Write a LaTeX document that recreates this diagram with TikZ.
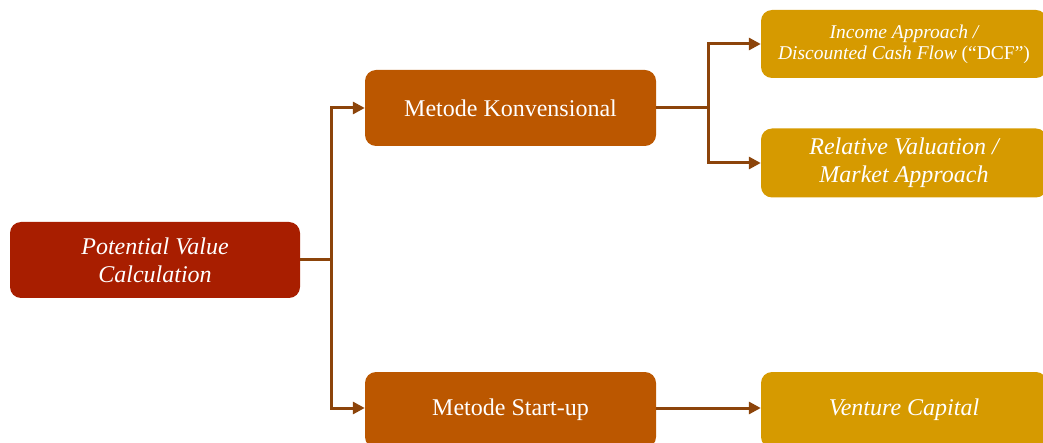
\documentclass[tikz,border=0pt]{standalone}
\usepackage{fontspec}
\setmainfont{Liberation Serif}
\usetikzlibrary{arrows.meta}
\definecolor{cRed}{RGB}{168,30,0}
\definecolor{cOrange}{RGB}{187,87,0}
\definecolor{cGold}{RGB}{214,154,0}
\definecolor{cLine}{RGB}{140,68,10}
\begin{document}
\begin{tikzpicture}[x=1pt,y=1pt,
  box/.style={rounded corners=11pt, text=white, align=center, inner sep=0pt, draw=none},
  big/.style={font=\fontsize{24}{28}\selectfont},
  small/.style={font=\fontsize{19.5}{21}\selectfont},
  arr/.style={draw=cLine, line width=3pt, -{Triangle[length=12pt,width=12pt]}}]
\useasboundingbox (0,0) rectangle (1043,-443);
\node[box,big,fill=cRed,minimum width=290pt,minimum height=76pt] (pvc) at (155,-260) {\itshape Potential Value\\\itshape Calculation};
\node[box,big,fill=cOrange,minimum width=291pt,minimum height=76pt] (konv) at (510.5,-108) {Metode Konvensional};
\node[box,big,fill=cOrange,minimum width=291pt,minimum height=76pt] (start) at (510.5,-410) {Metode Start-up};
\node[box,small,fill=cGold,minimum width=286pt,minimum height=68pt] (inc) at (904,-44) {\itshape Income Approach /\\\itshape Discounted Cash Flow \upshape(``DCF'')};
\node[box,big,fill=cGold,minimum width=286pt,minimum height=69pt] (rel) at (904,-163) {\itshape Relative Valuation /\\\itshape Market Approach};
\node[box,big,fill=cGold,minimum width=286pt,minimum height=76pt] (vc) at (904,-410) {\itshape Venture Capital};
\draw[arr] (pvc.east) -- ++(31,0) |- (konv.west);
\draw[arr] (pvc.east) -- ++(31,0) |- ([yshift=2pt]start.west);
\draw[arr] (konv.east) -- ++(52,0) |- (inc.west);
\draw[arr] (konv.east) -- ++(52,0) |- (rel.west);
\draw[arr] ([yshift=2pt]start.east) -- ([yshift=2pt]vc.west);
\end{tikzpicture}
\end{document}
